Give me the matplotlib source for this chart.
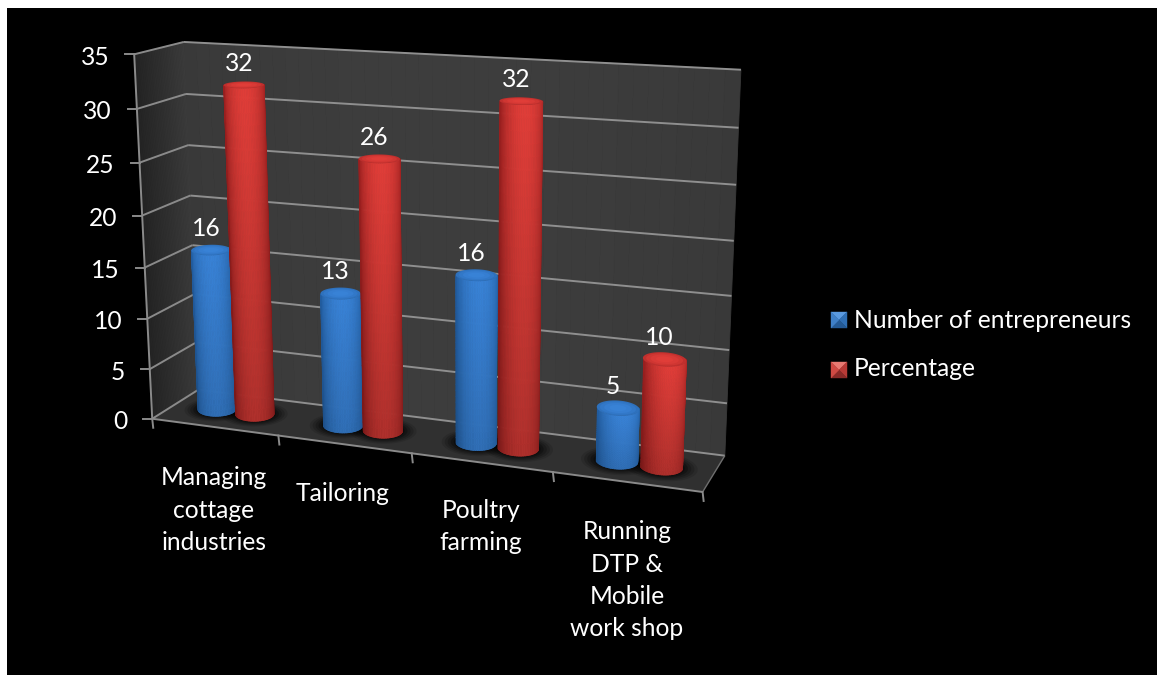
import numpy as np
import matplotlib.pyplot as plt
from matplotlib.collections import PolyCollection
from matplotlib.patches import Polygon, Rectangle

plt.rcParams['font.family'] = ['Lato', 'DejaVu Sans']

categories = [
    "Managing\ncottage\nindustries",
    "Tailoring",
    "Poultry\nfarming",
    "Running\nDTP &\nMobile\nwork shop",
]
entrepreneurs = [16, 13, 16, 5]
percentage = [32, 26, 32, 10]
series_names = ["Number of entrepreneurs", "Percentage"]
y_ticks = [0, 5, 10, 15, 20, 25, 30, 35]

Y_MAX = 35.0

# box corners on the canvas as (across, value, depth) -> (px, py), used to fit the camera
FRAME = [
    ((0.00, 0, 0), (152, 418)),
    ((0.00, 35, 0), (135, 54)),
    ((0.00, 0, 1), (199, 390)),
    ((0.00, 35, 1), (183, 42)),
    ((1.00, 0, 1), (725, 455)),
    ((1.00, 35, 1), (741, 70)),
    ((1.00, 0, 0), (703, 492)),
    ((0.25, 0, 0), (278, 436)),
    ((0.50, 0, 0), (412, 454)),
    ((0.75, 0, 0), (552, 472)),
]


def fit_camera(frame):
    rows = []
    rhs = []
    for (u, v, w), (px, py) in frame:
        v = v / Y_MAX
        rows.append([u, v, w, 1, 0, 0, 0, 0, -px * u, -px * v, -px * w])
        rhs.append(px)
        rows.append([0, 0, 0, 0, u, v, w, 1, -py * u, -py * v, -py * w])
        rhs.append(py)
    sol = np.linalg.lstsq(np.array(rows, float), np.array(rhs, float), rcond=None)[0]
    return np.append(sol, 1.0).reshape(3, 4)


CAMERA = fit_camera(FRAME)


def project(u, v, w):
    u, v, w = np.broadcast_arrays(u, v, w)
    pts = np.stack([u, v / Y_MAX, w, np.ones_like(u, dtype=float)], axis=-1)
    res = pts @ CAMERA.T
    return res[..., 0] / res[..., 2], res[..., 1] / res[..., 2]


def quad_strip(ax, corners_fn, colors, zorder):
    polys = [corners_fn(i) for i in range(len(colors))]
    ax.add_collection(PolyCollection(polys, facecolors=colors, edgecolors=colors,
                                     linewidths=0.6, zorder=zorder))


def line3d(ax, a, b, color, lw, zorder=3):
    x, y = project(np.array([a[0], b[0]]), np.array([a[1], b[1]]), np.array([a[2], b[2]]))
    ax.plot(x, y, color=color, lw=lw, zorder=zorder, solid_capstyle='butt')


def draw_walls(ax):
    n = 40
    # back wall
    us = np.linspace(0, 1, n + 1)
    def back(i):
        x, y = project(us[[i, i + 1, i + 1, i]], np.array([0, 0, Y_MAX, Y_MAX]), 1.0)
        return np.column_stack([x, y])
    tones = 0.225 + 0.015 * np.sin(np.linspace(0, np.pi, n))
    quad_strip(ax, back, [(t, t, t) for t in tones], 1)

    # side wall gets darker towards the front
    ws = np.linspace(0, 1, n + 1)
    def side(i):
        x, y = project(0.0, np.array([0, 0, Y_MAX, Y_MAX]), ws[[i, i + 1, i + 1, i]])
        return np.column_stack([x, y])
    tones = np.linspace(0.14, 0.23, n)
    quad_strip(ax, side, [(t, t, t) for t in tones], 1)

    # floor
    x, y = project(np.array([0, 1, 1, 0.0]), 0.0, np.array([0, 0, 1, 1.0]))
    ax.add_patch(Polygon(np.column_stack([x, y]), closed=True, fc='#303030', ec='none', zorder=1.5))


def draw_grid(ax):
    for val in y_ticks:
        line3d(ax, (0, val, 1), (1, val, 1), '#8f8f8f', 1.4, zorder=2)
        line3d(ax, (0, val, 0), (0, val, 1), '#8a8a8a', 1.4, zorder=2)
    line3d(ax, (0, 0, 0), (0, Y_MAX, 0), '#8a8a8a', 1.4)
    line3d(ax, (0, 0, 0), (1, 0, 0), '#8a8a8a', 1.4)
    line3d(ax, (1, 0, 0), (1, 0, 1), '#6f6f6f', 1.0)

    # ticks and value labels on the front-left edge
    for val in y_ticks:
        x, y = project(0.0, float(val), 0.0)
        ax.plot([x - 9, x], [y, y], color='#8a8a8a', lw=1.4, zorder=3)
        ax.text(x - 25, y + 3, str(val), color='white', fontsize=TICK_FONT, ha='right', va='center')
    for k in range(len(categories) + 1):
        x, y = project(k / len(categories), 0.0, 0.0)
        ax.plot([x, x + 1], [y, y + 9], color='#8a8a8a', lw=1.4, zorder=3)


def section(u, scale=1.0):
    # cross-section offset, sheared so the ellipse sits level on screen
    # instead of leaning with the floor and the depth axis
    def at(t):
        uu = u + scale * R_U * np.cos(t) + SHEAR * scale * R_W * np.sin(t)
        ww = DEPTH - scale * R_W * np.sin(t) + LEVEL * scale * R_U * np.cos(t)
        return uu, ww
    return at


def draw_shadow(ax, u):
    t = np.linspace(0, 2 * np.pi, 60)
    for scale, a in zip([1.7, 1.55, 1.4, 1.25, 1.1], [0.12, 0.16, 0.2, 0.25, 0.3]):
        uu, ww = section(u, scale)(t)
        x, y = project(uu, 0.0, ww)
        ax.add_patch(Polygon(np.column_stack([x, y]), closed=True, fc='black', alpha=a,
                             ec='none', zorder=2.5))


def shade(base, light, height_frac):
    # light runs from 0 on the silhouette to 1 on the lit stripe
    col = np.array(base[0]) + (np.array(base[1]) - np.array(base[0])) * light
    return np.clip(col * (base[2] + (1 - base[2]) * height_frac), 0, 1)


def draw_cylinder(ax, u, value, palette, zorder):
    nt, nv = 36, 28
    theta = np.linspace(0, np.pi, nt + 1)
    heights = np.linspace(0, value, nv + 1)
    at = section(u)
    polys = []
    colors = []
    for i in range(nt):
        mid = 0.5 * (theta[i] + theta[i + 1])
        light = np.sin(mid) ** 1.2
        uu, ww = at(theta[[i, i + 1, i + 1, i]])
        for j in range(nv):
            vv = heights[[j, j, j + 1, j + 1]]
            x, y = project(uu, vv, ww)
            polys.append(np.column_stack([x, y]))
            colors.append(shade(palette, light, (j + 0.5) / nv))
    ax.add_collection(PolyCollection(polys, facecolors=colors, edgecolors=colors,
                                     linewidths=0.5, zorder=zorder))

    # end cap, brighter in the middle
    t = np.linspace(0, 2 * np.pi, 60)
    for scale, mix in zip([1.0, 0.85, 0.65, 0.4], [0.55, 0.75, 0.9, 1.0]):
        uu, ww = section(u, scale)(t)
        x, y = project(uu, float(value), ww)
        col = np.array(palette[0]) + (np.array(palette[1]) - np.array(palette[0])) * mix
        ax.add_patch(Polygon(np.column_stack([x, y]), closed=True, fc=np.clip(col, 0, 1),
                             ec='none', zorder=zorder + 0.01))

    x, y = project(u, float(value), DEPTH)
    ax.text(x - 5, y - 21.5, str(value), color='white', fontsize=TICK_FONT, ha='center',
            va='center', zorder=10)


def draw_legend_key(ax, x0, y0, size, tones):
    cx, cy = x0 + size / 2, y0 + size / 2
    corners = [(x0, y0), (x0 + size, y0), (x0 + size, y0 + size), (x0, y0 + size)]
    for i, tone in enumerate(tones):
        tri = [corners[i], corners[(i + 1) % 4], (cx, cy)]
        ax.add_patch(Polygon(tri, closed=True, fc=tone, ec=tone, lw=0.3, zorder=5))


TICK_FONT = 17.7
DEPTH = 0.5
R_U = 0.0315
R_W = 0.2
SHEAR = 0.09
LEVEL = 2.64
LINE_PITCH = 32.5

BLUE = ((0.13, 0.36, 0.62), (0.22, 0.51, 0.84), 0.85)
RED = ((0.60, 0.12, 0.12), (0.88, 0.24, 0.22), 0.78)

fig = plt.figure(figsize=(11.57, 6.75), dpi=100, facecolor='white')
ax = fig.add_axes([0, 0, 1, 1])
ax.set_xlim(0, 1157)
ax.set_ylim(675, 0)
ax.axis('off')
ax.add_patch(Rectangle((7, 8), 1157, 675, fc='black', ec='none', zorder=0))

draw_walls(ax)
draw_grid(ax)

n_cat = len(categories)
blue_off, red_off = 0.34, 0.645
for i in range(n_cat):
    for off in (blue_off, red_off):
        draw_shadow(ax, (i + off) / n_cat)

z = 4
for i in range(n_cat):
    draw_cylinder(ax, (i + blue_off) / n_cat, entrepreneurs[i], BLUE, z)
    draw_cylinder(ax, (i + red_off) / n_cat, percentage[i], RED, z + 0.1)
    z += 0.2

label_x = [214, 343, 481, 627]
label_base = [485, 501, 518, 539]
for name, lx, ly in zip(categories, label_x, label_base):
    for k, part in enumerate(name.split('\n')):
        ax.text(lx, ly + k * LINE_PITCH, part, color='white', fontsize=TICK_FONT,
                ha='center', va='baseline')

draw_legend_key(ax, 831, 312, 16, ['#5a9ae0', '#2f6fb5', '#245a96', '#3f80c8'])
draw_legend_key(ax, 831, 362, 16, ['#e87a72', '#b83a36', '#8a2a28', '#d04a44'])
ax.text(854, 320, series_names[0], color='white', fontsize=TICK_FONT, ha='left', va='center')
ax.text(854, 369, series_names[1], color='white', fontsize=TICK_FONT, ha='left', va='center')

fig.savefig('out.png', dpi=100, facecolor='white')
